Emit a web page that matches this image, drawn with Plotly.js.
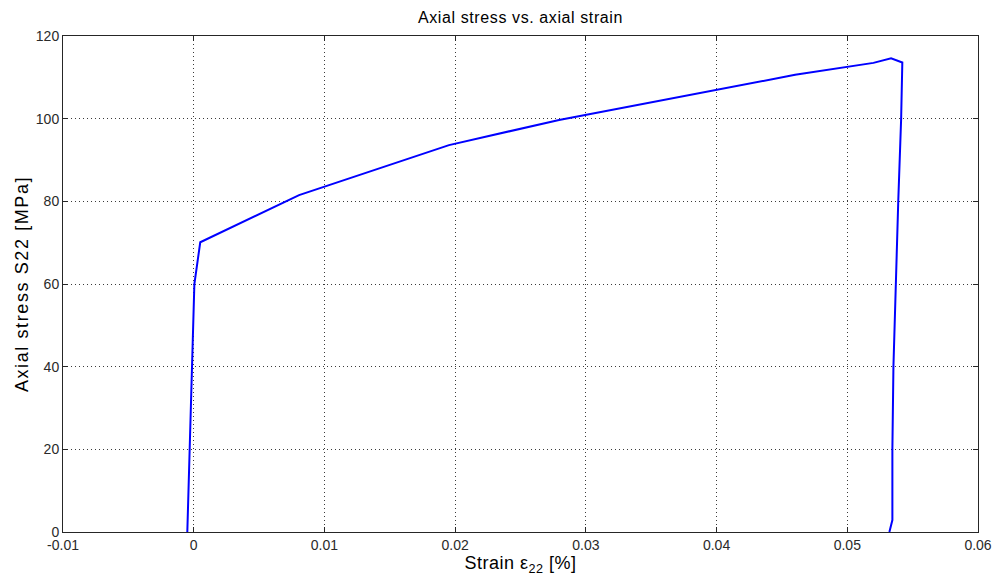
<!DOCTYPE html>
<html><head><meta charset="utf-8">
<script src="https://cdn.plot.ly/plotly-3.0.1.min.js"></script>
<style>
html,body{margin:0;padding:0;background:#fff;}
#chart{width:994px;height:581px;}
#chart .gtitle{letter-spacing:0.6px;}
#chart .ytitle{letter-spacing:1.6px;}
#chart .xtitle{letter-spacing:0.5px;}
</style>
</head><body><div id="chart"></div>
<script>
// Strain (%) and axial stress (MPa)
const strain = [-0.00049, -0.0003, -0.00015, 0.00005, 0.0005, 0.00806, 0.01953, 0.02795, 0.04601, 0.0520, 0.05335, 0.05421, 0.05412, 0.0539, 0.05353, 0.05345, 0.05345, 0.05322];
const stress = [0, 20, 40, 60, 70.1, 81.5, 93.6, 99.7, 110.6, 113.5, 114.6, 113.6, 100, 80, 40, 20, 2.9, 0];
const xTicks = [-0.01, 0, 0.01, 0.02, 0.03, 0.04, 0.05, 0.06];
const xTickText = ["-0.01", "0", "0.01", "0.02", "0.03", "0.04", "0.05", "0.06"];
const yTicks = [0, 20, 40, 60, 80, 100, 120];

const FONT = 'Liberation Sans, Arial, sans-serif';
const axisCommon = {
  showline: true, linecolor: '#262626', linewidth: 1, mirror: 'ticks',
  ticks: 'inside', ticklen: 5, tickcolor: '#262626',
  showgrid: true, gridcolor: '#3a3a3a', griddash: '1px,3px', gridwidth: 1,
  zeroline: false,
  tickfont: {family: FONT, size: 14, color: '#2a2a2a'}
};

Plotly.newPlot('chart', [{
  x: strain, y: stress, type: 'scatter', mode: 'lines',
  line: {color: '#0000ff', width: 2}, showlegend: false
}], {
  width: 994, height: 581,
  margin: {l: 63, r: 16, t: 36, b: 49},
  paper_bgcolor: '#fff', plot_bgcolor: '#fff',
  title: {text: 'Axial stress vs. axial strain', xref: 'paper', x: 0.5, xanchor: 'center', y: 0.97, yanchor: 'middle',
          font: {family: FONT, size: 16, color: '#000'}},
  xaxis: Object.assign({}, axisCommon, {
    range: [-0.01, 0.06], tickvals: xTicks, ticktext: xTickText,
    title: {text: 'Strain ε<sub>22</sub> [%]', standoff: 2,
            font: {family: FONT, size: 18, color: '#000'}}
  }),
  yaxis: Object.assign({}, axisCommon, {
    range: [0, 120], tickvals: yTicks,
    title: {text: 'Axial stress S22 [MPa]', standoff: 2,
            font: {family: FONT, size: 18, color: '#000'}}
  })
}, {displayModeBar: false, staticPlot: true});
</script></body></html>
